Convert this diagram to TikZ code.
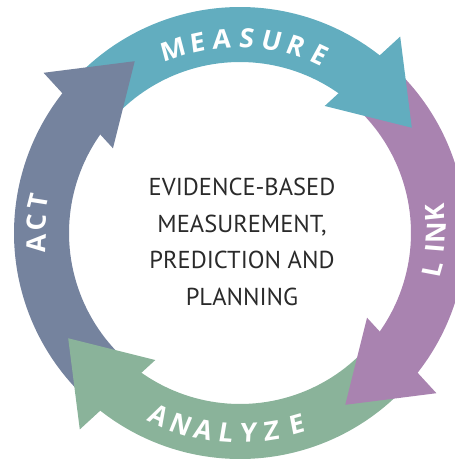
\documentclass[tikz,border=0pt]{standalone}
\usepackage{fontspec}
\setmainfont{PT Sans}
\newfontfamily\ringfont{Open Sans}
\definecolor{measurecol}{HTML}{62ADBF}
\definecolor{linkcol}{HTML}{A983B0}
\definecolor{analyzecol}{HTML}{8AB39A}
\definecolor{actcol}{HTML}{75839E}
\definecolor{titlecol}{HTML}{2A2A2A}
% ring geometry (pt)
\def\Rout{226}
\def\Rin{171}
% curved band of one arrow, #1 = tip angle, #2 = colour
\newcommand\ringband[2]{%
  \fill[#2] ({#1+106}:\Rout) arc[start angle={#1+106}, end angle={#1+15}, radius=\Rout]
    -- ({#1+15}:\Rin) arc[start angle={#1+15}, end angle={#1+106}, radius=\Rin] -- cycle;}
% triangular head of one arrow
\newcommand\ringhead[2]{%
  \fill[#2] (#1:201.5) -- ({#1+19.3}:253.5) -- ({#1+24.8}:152.7) -- cycle;}
\begin{document}
\begin{tikzpicture}[x=1pt,y=1pt,
  ringletter/.style={text=white, inner sep=0pt, xslant=0.1,
    font=\ringfont\bfseries\fontsize{26.5}{26.5}\selectfont},
  title/.style={align=center, text=titlecol, inner sep=0pt,
    font=\fontsize{24.5}{36.7}\selectfont}]
\useasboundingbox (-240,-228) rectangle (215,233);
% bands first, heads on top so each head hides the next tail
\ringband{31.5}{measurecol}
\ringband{-58.5}{linkcol}
\ringband{211.5}{analyzecol}
\ringband{121.5}{actcol}
\ringhead{31.5}{measurecol}
\ringhead{-58.5}{linkcol}
\ringhead{211.5}{analyzecol}
\ringhead{121.5}{actcol}
% MEASURE, tops outward
\foreach \ch/\a [count=\i] in {M/110,E/102.6,A/95.3,S/88,U/80.6,R/73.2,E/65.8} {
  \node[ringletter, rotate=\a-90] (m\i) at (\a:195) {\ch};
}
% LINK, read upward, tops inward
\foreach \ch/\a [count=\i] in {L/-10.6,I/-4.6,N/0,K/5.9} {
  \node[ringletter, rotate=\a+90] (l\i) at (\a:196) {\ch};
}
% ANALYZE, tops inward
\foreach \ch/\a [count=\i] in {A/246.2,N/252.9,A/259.5,L/266,Y/272.5,Z/279.1,E/286.5} {
  \node[ringletter, rotate=\a+90] (z\i) at (\a:200) {\ch};
}
% ACT, read upward, tops outward
\foreach \ch/\a [count=\i] in {A/183,C/177,T/171.2} {
  \node[ringletter, rotate=\a-90] (c\i) at (\a:204) {\ch};
}
\node[title] (centre) at (2,-9) {EVIDENCE-BASED\\MEASUREMENT,\\PREDICTION AND\\PLANNING};
\end{tikzpicture}
\end{document}
